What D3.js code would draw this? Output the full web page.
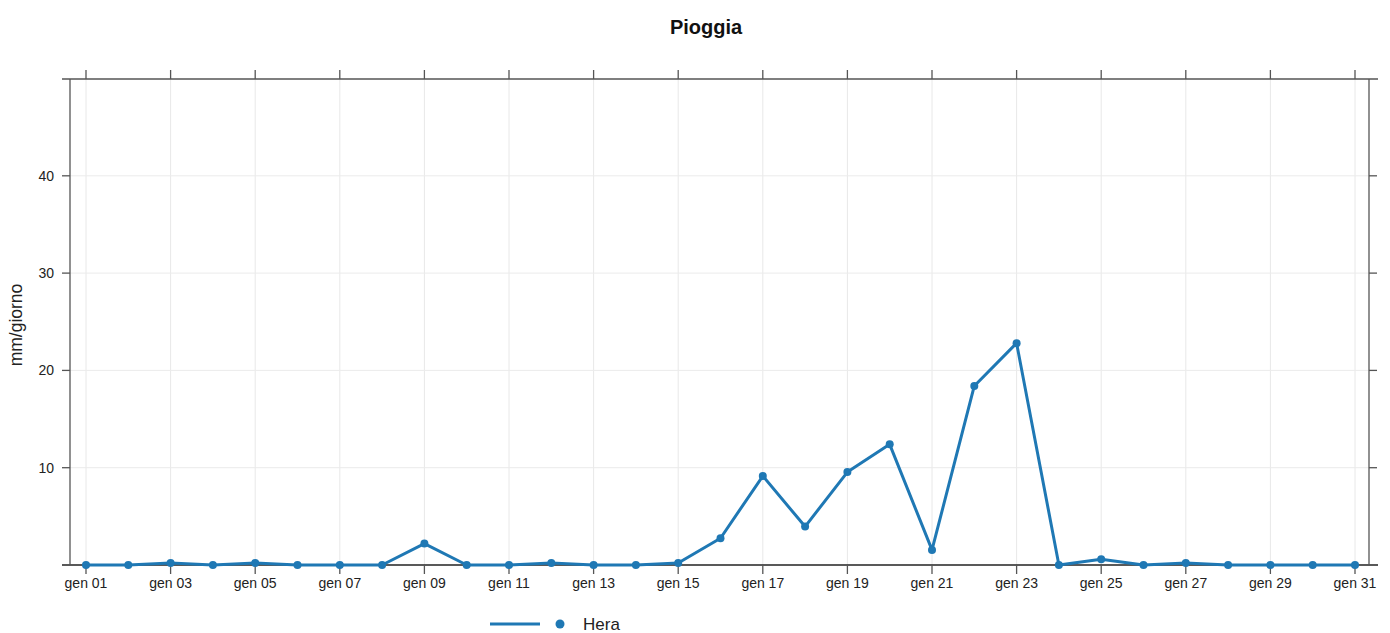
<!DOCTYPE html>
<html><head><meta charset="utf-8">
<script src="https://cdn.jsdelivr.net/npm/d3@7"></script>
<style>body{margin:0;background:#fff;}svg{display:block;font-family:"Liberation Sans",Arial,sans-serif;}</style>
</head><body>
<svg id="c" width="1390" height="633"></svg>
<script>
const days = d3.range(1, 32);
const hera = [0,0,0.2,0,0.2,0,0,0,2.2,0,0,0.2,0,0,0.2,2.75,9.15,3.95,9.55,12.4,1.55,18.4,22.8,0,0.6,0,0.2,0,0,0,0];
const yTicks = [10,20,30,40];
const xTickDays = d3.range(1, 32, 2);
const xTickLabels = xTickDays.map(d => "gen " + String(d).padStart(2, "0"));
const title = "Pioggia", yLabel = "mm/giorno", seriesName = "Hera";

const svg = d3.select("#c");
const L = 70, R = 1369, T = 79, B = 565;
const x = d3.scaleLinear().domain([1, 31]).range([86, 1355]);
const y = d3.scaleLinear().domain([0, 49.95]).range([B, T]);
const col = "#1f78b4", axc = "#555";

// grid
svg.append("g").selectAll("line").data(xTickDays).join("line")
  .attr("x1", d => x(d)).attr("x2", d => x(d)).attr("y1", T).attr("y2", B)
  .attr("stroke", "#e8e8e8").attr("stroke-width", 1);
svg.append("g").selectAll("line").data(yTicks).join("line")
  .attr("x1", L).attr("x2", R).attr("y1", d => y(d)).attr("y2", d => y(d))
  .attr("stroke", "#ebebeb").attr("stroke-width", 1);

// frame
svg.append("line").attr("x1", 62).attr("x2", 1378).attr("y1", T).attr("y2", T).attr("stroke", axc).attr("stroke-width", 1.3);
svg.append("line").attr("x1", 62).attr("x2", 1378).attr("y1", B).attr("y2", B).attr("stroke", "#222").attr("stroke-width", 1.3);
svg.append("line").attr("x1", L).attr("x2", L).attr("y1", T).attr("y2", B).attr("stroke", axc).attr("stroke-width", 1.3);
svg.append("line").attr("x1", R).attr("x2", R).attr("y1", T).attr("y2", B).attr("stroke", axc).attr("stroke-width", 1.3);

// ticks
const tk = svg.append("g").attr("stroke", axc).attr("stroke-width", 1.3);
xTickDays.forEach(d => {
  tk.append("line").attr("x1", x(d)).attr("x2", x(d)).attr("y1", T).attr("y2", T - 9);
  tk.append("line").attr("x1", x(d)).attr("x2", x(d)).attr("y1", B).attr("y2", B + 9);
});
yTicks.forEach(d => {
  tk.append("line").attr("x1", L).attr("x2", L - 8).attr("y1", y(d)).attr("y2", y(d));
  tk.append("line").attr("x1", R).attr("x2", R + 8).attr("y1", y(d)).attr("y2", y(d));
});

// tick labels
svg.append("g").selectAll("text").data(xTickDays).join("text")
  .attr("x", d => x(d)).attr("y", 588).attr("text-anchor", "middle")
  .attr("font-size", 14).attr("fill", "#222").text((d, i) => xTickLabels[i]);
svg.append("g").selectAll("text").data(yTicks).join("text")
  .attr("x", 54).attr("y", d => y(d) + 5).attr("text-anchor", "end")
  .attr("font-size", 14).attr("fill", "#222").text(d => d);

// title & axis label
svg.append("text").attr("x", 706).attr("y", 34).attr("text-anchor", "middle")
  .attr("font-size", 20).attr("font-weight", "bold").attr("fill", "#111").text(title);
svg.append("text").attr("transform", "translate(22,325) rotate(-90)").attr("text-anchor", "middle")
  .attr("font-size", 17.5).attr("fill", "#222").text(yLabel);

// series
const line = d3.line().x((d, i) => x(days[i])).y(d => y(d));
svg.append("path").datum(hera).attr("d", line).attr("fill", "none")
  .attr("stroke", col).attr("stroke-width", 3).attr("stroke-linejoin", "round");
svg.append("g").selectAll("circle").data(hera).join("circle")
  .attr("cx", (d, i) => x(days[i])).attr("cy", d => y(d)).attr("r", 4).attr("fill", col);

// legend
svg.append("line").attr("x1", 490).attr("x2", 540).attr("y1", 624).attr("y2", 624).attr("stroke", col).attr("stroke-width", 3);
svg.append("circle").attr("cx", 560).attr("cy", 624).attr("r", 4.5).attr("fill", col);
svg.append("text").attr("x", 583).attr("y", 630).attr("font-size", 17).attr("fill", "#222").text(seriesName);
</script>
</body></html>
